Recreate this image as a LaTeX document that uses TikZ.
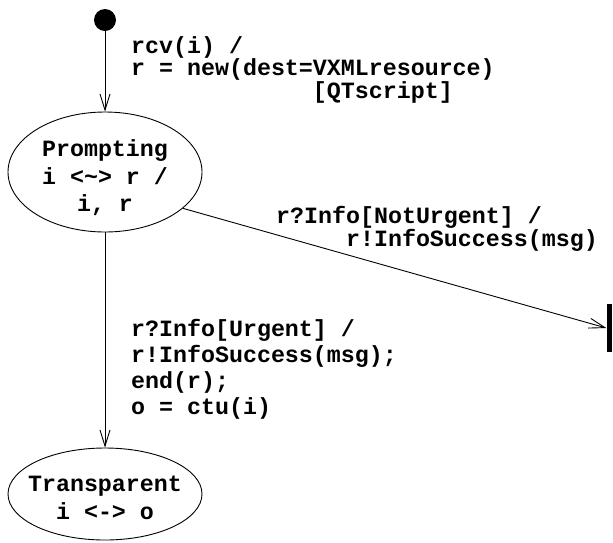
\documentclass[tikz,border=0pt]{standalone}
\usepackage{fontspec}
\setmonofont{Liberation Mono}
\usepackage{tikz}
\usetikzlibrary{arrows.meta,shapes.geometric}

\tikzset{
  stnode/.style={draw,ellipse,line width=0.9pt,inner xsep=0pt,inner ysep=-6pt,minimum width=194pt,align=center,
    font=\ttfamily\bfseries\fontsize{23.3}{27.5}\selectfont},
  edgeline/.style={line width=0.9pt,-{Straight Barb[length=16pt,width=10pt]}},
  lbl/.style={anchor=west,inner sep=0pt,align=left,font=\ttfamily\bfseries\fontsize{23.3}{#1}\selectfont},
}

\begin{document}
\begin{tikzpicture}[x=1pt,y=-1pt]
\useasboundingbox (0,0) rectangle (613,542);
\node[circle,fill,inner sep=0pt,minimum size=22pt] (init) at (105,20) {};
\node[stnode,minimum height=120pt] (prompt) at (105,172) {\rule{0pt}{29pt}Prompting\\i <\textasciitilde> r /\\i, r};
\node[stnode,minimum height=92pt,inner xsep=-25pt] (transp) at (105,494) {\rule{0pt}{23pt}Transparent\\i <-> o};
\node[fill,inner sep=0pt,minimum width=5pt,minimum height=48pt] (term) at (609,328) {};
\draw[edgeline] (init) -- (prompt);
\draw[edgeline] (prompt) -- (transp);
\draw[edgeline] (prompt.-25) -- (term.west);
\node[lbl=22.5] (rcvlbl) at (131,69.5) {rcv(i) /\\r = new(dest=VXMLresource)\\\phantom{r = new(dest=}[QTscript]};
\node[lbl=23] (notlbl) at (276,228.5) {r?Info[NotUrgent] /\\\phantom{r?Inf}r!InfoSuccess(msg)};
\node[lbl=26] (urglbl) at (131,369) {r?Info[Urgent] /\\r!InfoSuccess(msg);\\end(r);\\o = ctu(i)};
\end{tikzpicture}
\end{document}
